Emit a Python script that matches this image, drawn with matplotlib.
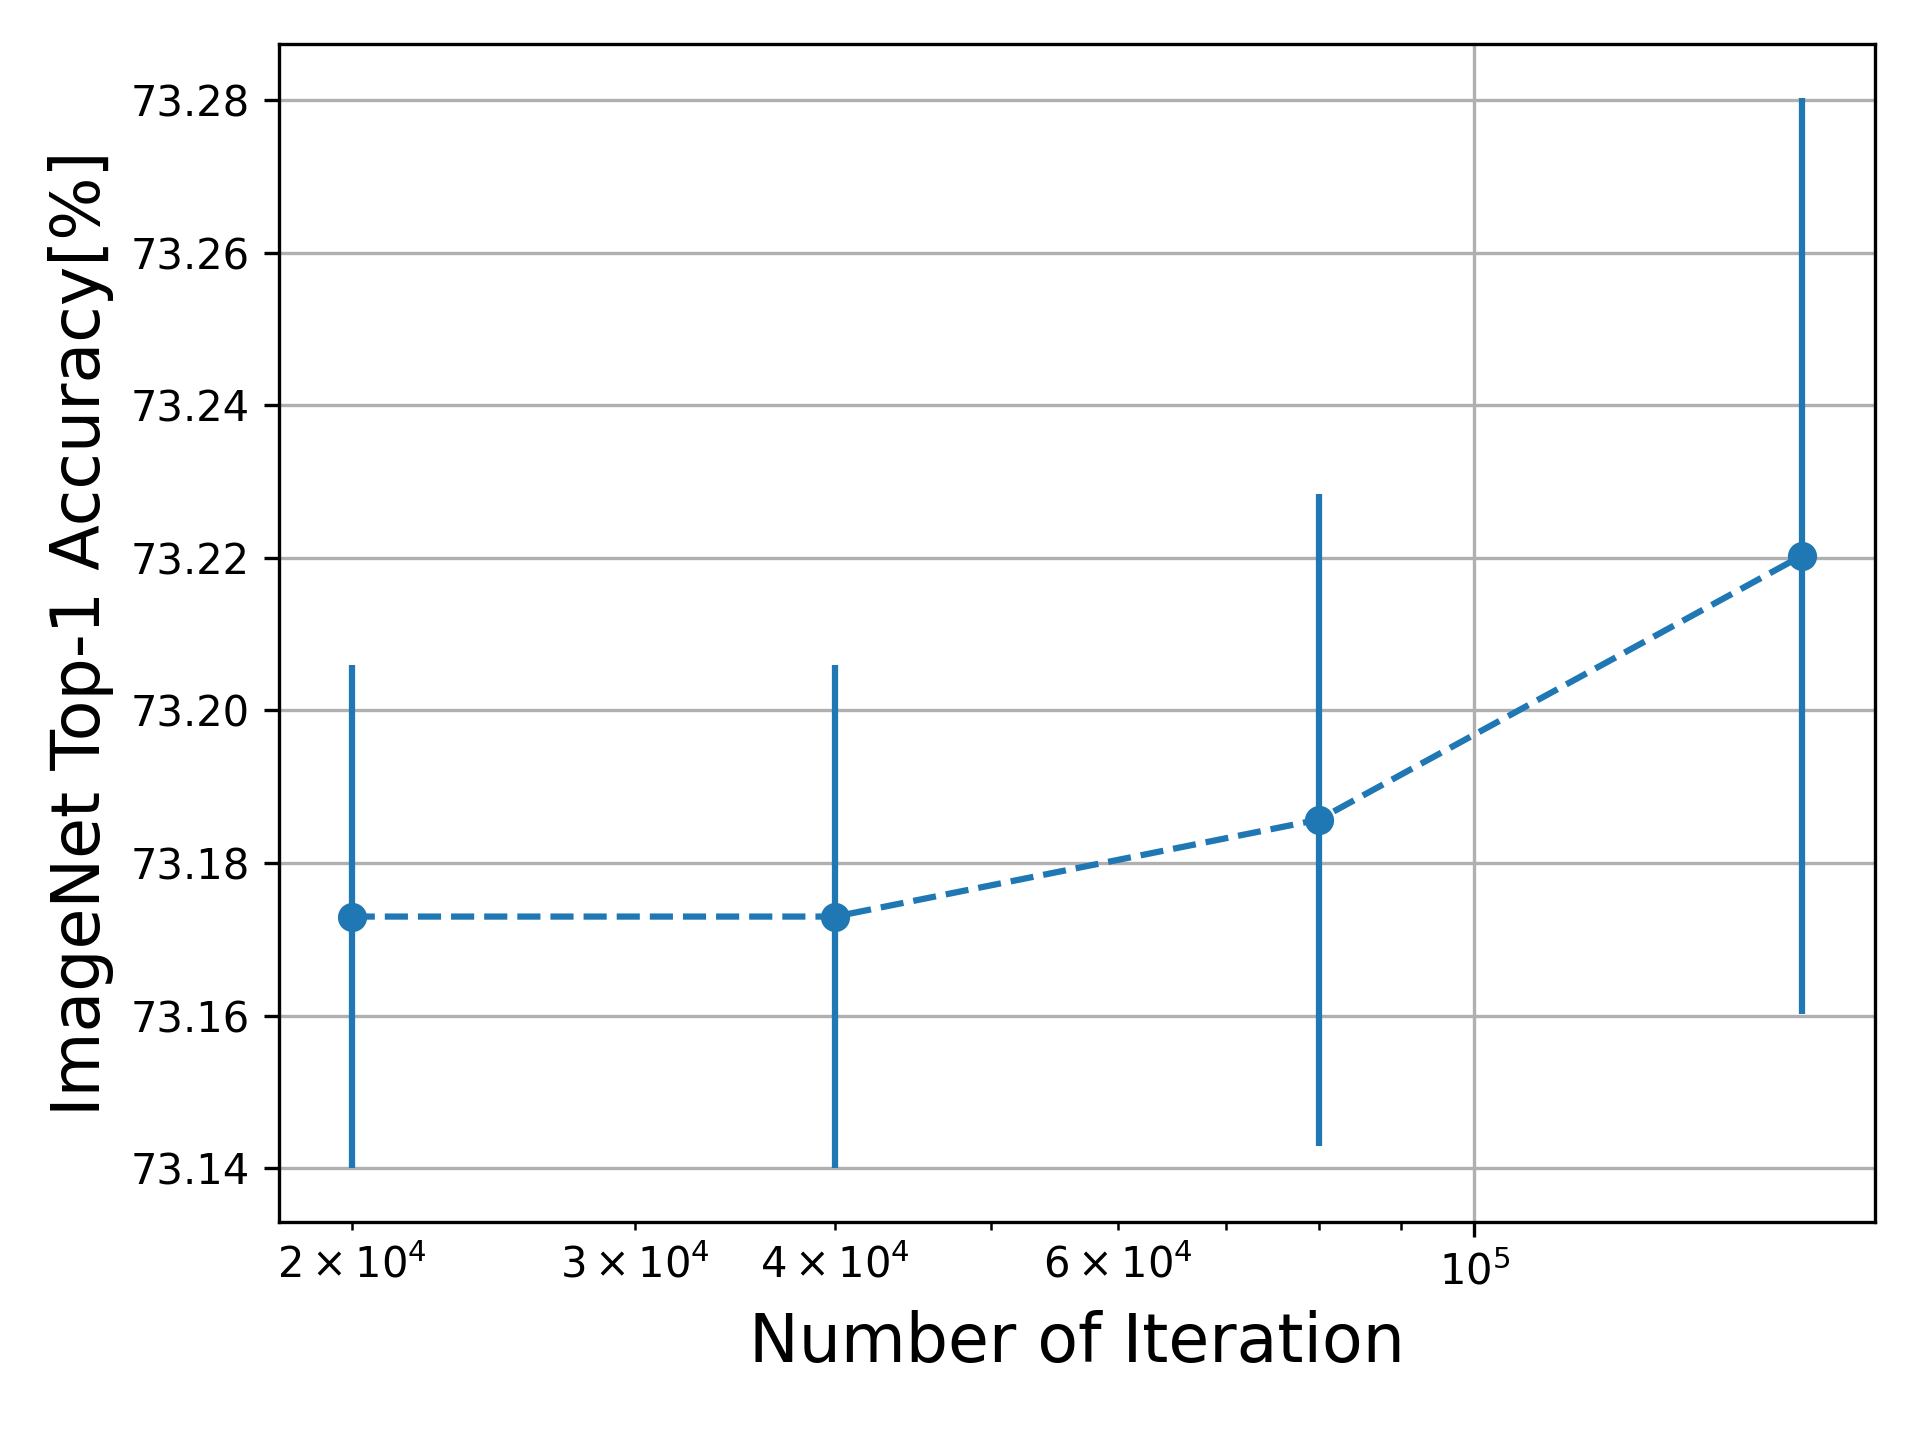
import matplotlib
matplotlib.use("Agg")
import matplotlib.pyplot as plt
import numpy as np

iterations = [20000, 40000, 80000, 160000]
mean_acc = [73.1730, 73.1730, 73.1857, 73.2203]
std_acc = [0.0330, 0.0330, 0.0427, 0.0600]

fig = plt.figure(figsize=(6.4, 4.8), dpi=300)
plt.errorbar(iterations, mean_acc, yerr=std_acc, fmt='o--')
plt.xscale("log")
plt.grid()
plt.xlabel('Number of Iteration', fontsize=16)
plt.ylabel('ImageNet Top-1 Accuracy[%]', fontsize=16)
plt.subplots_adjust(left=0.1454, right=0.9764, top=0.9694, bottom=0.1514)
plt.savefig('out.png', dpi=300)
